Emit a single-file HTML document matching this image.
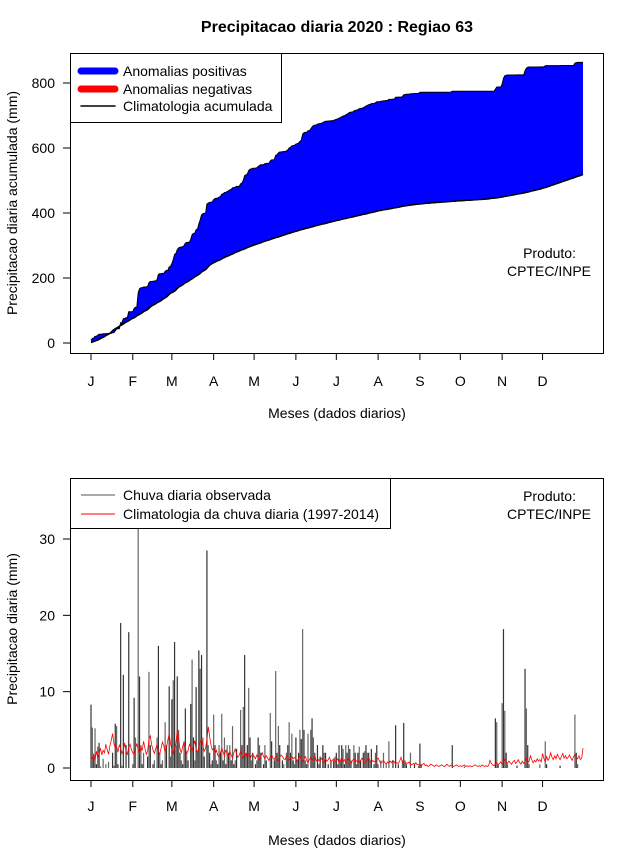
<!DOCTYPE html>
<html><head><meta charset="utf-8"><style>
body{margin:0;background:#fff}
svg text{font-family:"Liberation Sans",sans-serif;font-size:14px;fill:#000}
</style></head><body>
<svg id="c" width="640" height="850" xmlns="http://www.w3.org/2000/svg">
<text x="337" y="32" text-anchor="middle" style="font-weight:bold;font-size:16px">Precipitacao diaria 2020 : Regiao 63</text>
</svg>
<script>
const months=["J","F","M","A","M","J","J","A","S","O","N","D"];
const monthStartDays=[1,32,61,92,122,153,183,214,245,275,306,336];
const topTicks=[0,200,400,600,800];
const bottomTicks=[0,10,20,30];
const observed=[
8.3,5.3,1.5,5.2,0.5,2.8,3.3,0.2,0,1.2,0,0.5,0,0.8,0,0,2,0.3,5.8,5.5,0.5,0,19,0.3,12.2,0,3,0,17.8,0,0,
0.5,9.2,4,0,45,12,3,0.5,2,0,0,1.5,12.6,3,0,0.5,1,0,4,16,2,0.5,1,0,6,3,0,10.7,1.5,
9,11.5,16.5,3,12,5,2,1,0.5,3.5,7.8,2,1,0,8.4,14.2,4,1,10.6,2,15.4,13,14.8,4,1.5,0,28.5,3,2,0.5,1,
7,3,1,0.5,3,2,7.1,1,4,0.5,3,2,3,1,5.5,0.5,1,2.5,0,0,7.6,3,8,14.8,2,3,10.5,4,1,2,
0,0.5,1,4,3,2,0,0.5,3,1,0,0,7.2,3.5,0,1,12.7,2,5.5,3,0,1,0.5,0,2,3,6,2,4.5,1,0.5,
4,1,2,5,3.8,18.2,5,1,0.5,4.5,0,5,6.5,4,2,0,3,0.5,1.5,0,3,2,2,0,0.5,0,1,0,1,1.5,
2,0.5,3,1,3,2.5,0.5,3,2,3,2.5,1,0,3,2,0.5,2,2.8,1,0,2,2.2,3,2,2,1,2.5,0,0.5,2,3,
0.5,0,1,0,2,0,0.5,0,3.5,0,0,1,0,5.6,0,0.5,0,0,1,5.9,1,0.5,0,0,2,0,0,0.5,0,0,0.3,
3.2,0.5,0,0,0,0,0,0,0,0,0,0,0,0,0,0,0,0,0,0,0,0,0,0,3,0,0,0,0,0,
0,0,0,0.2,0,0,0,0,0,0,0,0,0,0,0,0,0,0,0,0,0,0,0,0,0,0,6.5,6,0.5,0,0,
8.5,18.2,7.5,2,0.5,0,0,0,0,0,0,0.3,0,0,0,0,0,13,7.8,3,0.5,0,0,0,0,0,0,0,0.5,0,
0,0,3.5,0.5,0,0,0,0,0,0,0,0,0,0.3,0,0,0,0,0,0,0,0,0,0,7,2,0.5,0,0,0,0];
const climatology=[
1.5,1.2,1.8,1.0,2.2,1.4,1.9,2.6,1.7,2.3,2.0,3.1,2.4,1.8,2.9,3.6,4.5,3.2,2.5,2.8,2.1,3.0,2.6,1.9,2.4,3.3,2.2,1.8,2.7,3.1,2.4,
2.0,1.7,2.6,3.2,2.4,1.9,2.8,2.3,3.5,2.6,1.8,2.2,3.8,4.2,3.0,2.4,1.9,2.5,3.1,2.2,1.8,2.6,3.4,2.9,2.1,2.7,3.6,4.5,3.2,
2.4,1.8,2.7,3.2,5.0,3.9,2.5,2.0,2.8,3.4,2.6,1.9,2.3,3.1,2.7,2.2,2.9,3.6,2.4,2.0,2.8,3.3,3.8,2.9,2.2,2.6,3.7,5.4,4.2,3.0,2.4,
2.6,1.9,2.3,1.7,1.4,2.0,2.6,2.1,1.6,2.4,1.8,1.5,2.2,1.7,1.3,2.0,2.5,1.8,1.4,1.7,2.2,1.6,1.3,1.9,1.5,2.1,1.7,1.2,1.6,1.8,
1.5,1.2,1.7,1.3,1.1,1.5,2.0,1.5,1.2,1.6,1.3,1.0,1.5,1.8,1.3,1.1,1.5,1.3,0.9,1.4,1.7,1.5,1.2,1.1,1.6,1.4,1.0,1.3,1.5,1.2,1.4,
1.2,0.9,1.3,1.7,1.1,0.8,1.2,1.5,1.0,0.7,1.1,1.4,0.9,1.2,1.6,1.0,0.8,1.1,0.9,1.3,1.0,0.7,1.2,0.9,1.1,1.4,0.8,1.0,1.2,0.9,
0.9,1.2,0.7,1.0,1.4,0.8,1.1,0.7,0.9,1.3,0.8,0.6,1.0,1.2,0.8,0.9,1.1,0.7,1.0,1.3,0.9,0.7,0.8,1.1,1.4,0.9,0.7,1.0,0.8,0.9,1.1,
1.3,0.9,0.6,0.8,1.0,0.7,0.5,0.8,0.6,0.9,0.7,1.0,0.8,0.5,0.7,0.6,0.9,1.4,0.8,0.6,0.5,0.7,0.6,0.8,0.5,0.4,0.6,0.5,0.7,0.4,0.5,
0.4,0.3,0.5,0.6,0.3,0.4,0.2,0.3,0.5,0.4,0.3,0.2,0.4,0.3,0.2,0.3,0.4,0.3,0.2,0.3,0.5,0.3,0.2,0.4,0.3,0.2,0.3,0.4,0.3,0.2,
0.3,0.2,0.3,0.4,0.2,0.3,0.2,0.3,0.2,0.2,0.3,0.4,0.3,0.2,0.3,0.2,0.4,0.3,0.2,0.3,0.2,0.3,1.0,0.6,0.4,0.3,0.5,0.7,0.4,0.6,0.8,
0.5,0.7,1.2,0.8,0.6,0.9,0.7,0.5,0.8,1.0,0.6,0.8,1.1,0.7,0.5,0.9,0.6,0.8,1.3,0.7,0.9,1.6,1.1,0.7,1.0,0.8,1.2,0.9,1.1,0.8,
1.9,1.2,0.8,1.5,1.0,1.3,2.0,1.4,1.1,1.6,1.2,1.8,1.4,1.1,1.5,1.9,1.3,1.6,1.2,1.4,1.7,1.3,1.0,1.5,1.8,1.4,1.2,1.6,1.1,1.3,2.6];

const NS='http://www.w3.org/2000/svg', svg=document.getElementById('c');
function mk(t,a,txt){const e=document.createElementNS(NS,t);for(const k in a)e.setAttribute(k,a[k]);if(txt!==undefined)e.textContent=txt;svg.appendChild(e);return e;}
const xDay=d=>91+(d-1)*(583-91)/365;
const yTop=v=>343-v*(343-83)/800;
const yBot=v=>768-v*(768-539)/30;

const cumObs=[],cumClim=[];let a=0,b=0;
for(let i=0;i<observed.length;i++){a+=observed[i];cumObs.push(a);}
for(let i=0;i<climatology.length;i++){b+=climatology[i];cumClim.push(b);}

// ---- TOP PANEL ----
let up=cumObs.map((v,i)=>xDay(i+1).toFixed(1)+','+yTop(v).toFixed(1));
let lo=cumClim.map((v,i)=>xDay(i+1).toFixed(1)+','+yTop(v).toFixed(1)).reverse();
let e=mk('polygon',{points:up.concat(lo).join(' '),fill:'#0000ff',stroke:'none'});


e=mk('polyline',{points:up.join(' '),fill:'none',stroke:'#000','stroke-width':1});


e=mk('polyline',{points:lo.slice().reverse().join(' '),fill:'none',stroke:'#000','stroke-width':1.5});


e=mk('rect',{x:70.5,y:53.5,width:533,height:300,fill:'none',stroke:'#000'});


topTicks.forEach(t=>{const y=yTop(t);
 e=mk('line',{x1:63,x2:70,y1:y,y2:y,stroke:'#000'});
 
 
 e=mk('text',{x:55,y:y+5,'text-anchor':'end'},t);
 
 });
months.forEach((m,i)=>{const x=xDay(monthStartDays[i]);
 e=mk('line',{x1:x,x2:x,y1:353,y2:360,stroke:'#000'});
 
 
 e=mk('text',{x:x,y:386,'text-anchor':'middle'},m);
 
 });
e=mk('text',{x:337,y:418,'text-anchor':'middle'},'Meses (dados diarios)');


e=mk('text',{x:17,y:203,'text-anchor':'middle',transform:'rotate(-90 17 203)'},'Precipitacao diaria acumulada (mm)');


e=mk('text',{x:576,y:258,'text-anchor':'end'},'Produto:');


e=mk('text',{x:591,y:276,'text-anchor':'end'},'CPTEC/INPE');


e=mk('rect',{x:70.5,y:53.5,width:211,height:69,fill:'#fff',stroke:'#000'});


[['Anomalias positivas','#0000ff',7,71],['Anomalias negativas','#ff0000',7,89],['Climatologia acumulada','#000',1.5,106]].forEach(l=>{
 e=mk('line',{x1:81,x2:115,y1:l[3],y2:l[3],stroke:l[1],'stroke-width':l[2],'stroke-linecap':'round'});
 
 
 e=mk('text',{x:123,y:l[3]+5},l[0]);
 
 });

// ---- BOTTOM PANEL ----
mk('clipPath',{id:'bc'}).innerHTML='<rect x="70" y="478" width="533" height="302"/>';
observed.forEach((v,i)=>{if(v<=0)return;const x=xDay(i+1);
 e=mk('line',{x1:x,x2:x,y1:yBot(0),y2:yBot(v),stroke:i%2?'#666':'#333','stroke-width':1.2,'clip-path':'url(#bc)'});
 
 });
e=mk('polyline',{points:climatology.map((v,i)=>xDay(i+1).toFixed(1)+','+yBot(v).toFixed(1)).join(' '),fill:'none',stroke:'#ff0000','stroke-width':0.8});


e=mk('rect',{x:70.5,y:478.5,width:533,height:302,fill:'none',stroke:'#000'});


bottomTicks.forEach(t=>{const y=yBot(t);
 e=mk('line',{x1:63,x2:70,y1:y,y2:y,stroke:'#000'});
 
 
 e=mk('text',{x:55,y:y+5,'text-anchor':'end'},t);
 
 });
months.forEach((m,i)=>{const x=xDay(monthStartDays[i]);
 e=mk('line',{x1:x,x2:x,y1:780,y2:787,stroke:'#000'});
 
 
 e=mk('text',{x:x,y:811,'text-anchor':'middle'},m);
 
 });
e=mk('text',{x:337,y:845,'text-anchor':'middle'},'Meses (dados diarios)');


e=mk('text',{x:17,y:629,'text-anchor':'middle',transform:'rotate(-90 17 629)'},'Precipitacao diaria (mm)');


e=mk('text',{x:576,y:501,'text-anchor':'end'},'Produto:');


e=mk('text',{x:591,y:519,'text-anchor':'end'},'CPTEC/INPE');


e=mk('rect',{x:70.5,y:478.5,width:320,height:50,fill:'#fff',stroke:'#000'});


[['Chuva diaria observada','#555',495],['Climatologia da chuva diaria (1997-2014)','#ff0000',514]].forEach(l=>{
 e=mk('line',{x1:81,x2:115,y1:l[2],y2:l[2],stroke:l[1],'stroke-width':1});
 
 
 e=mk('text',{x:123,y:l[2]+5},l[0]);
 
 });
</script>
</body></html>
